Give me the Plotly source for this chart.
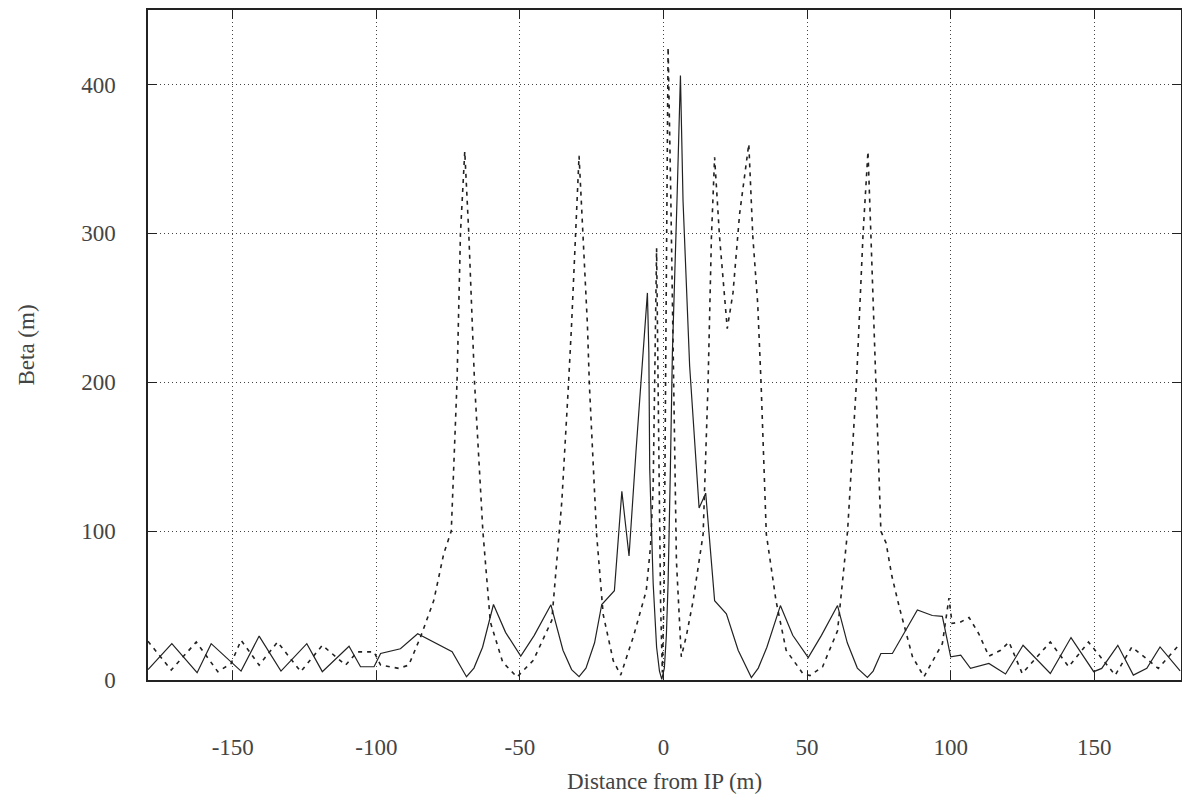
import plotly.graph_objects as go

# solid curve: distance from IP (m) and beta (m)
s_solid = [-179.5, -171.2, -162.4, -157.5, -147.1, -140.8, -133.2, -124.2, -118.8, -109.5,
           -105.5, -100.8, -98.5, -91.6, -85.6, -73.6, -68.6, -66.0, -63.0, -59.2,
           -55.0, -49.7, -45.0, -39.2, -35.0, -32.0, -29.4, -27.0, -24.0, -21.5,
           -17.1, -14.5, -12.0, -9.6, -5.6, -5.1, -4.8, -3.6, -2.4, -1.4,
           -0.6, 0.3, 1.0, 1.6, 2.4, 3.1, 4.7, 5.9, 6.8, 9.1,
           12.4, 14.7, 17.8, 21.9, 26.0, 30.6, 33.0, 36.0, 40.7, 45.0,
           50.4, 55.0, 60.6, 64.0, 67.5, 71.0, 73.0, 75.7, 79.7, 88.4,
           93.6, 97.1, 100.0, 103.5, 106.9, 113.3, 119.1, 125.2, 134.7, 141.9,
           149.8, 152.6, 158.2, 163.6, 168.3, 172.9, 179.9]
beta_solid = [7.0, 24.4, 4.9, 24.4, 6.0, 29.5, 6.0, 24.4, 5.6, 22.7,
              8.9, 8.9, 17.8, 21.0, 31.0, 19.0, 2.2, 8.0, 22.0, 50.7,
              32.0, 16.0, 30.0, 50.5, 20.0, 7.0, 2.2, 8.0, 25.0, 50.7,
              60.0, 126.7, 83.3, 153.0, 260.0, 220.0, 142.0, 65.0, 22.0, 6.0,
              0.5, 8.0, 30.0, 65.0, 142.0, 220.0, 322.0, 406.0, 322.0, 211.0,
              115.5, 125.5, 53.3, 44.5, 20.0, 1.6, 8.0, 22.0, 50.0, 30.0,
              15.0, 30.0, 50.0, 25.0, 8.0, 1.8, 6.0, 17.8, 17.8, 47.0,
              43.3, 42.7, 15.6, 16.7, 7.8, 11.1, 4.0, 23.3, 4.4, 28.5,
              5.6, 7.8, 23.3, 3.3, 7.8, 22.2, 6.2]

# dashed curve
s_dashed = [-179.5, -171.4, -162.7, -155.2, -150.6, -147.1, -140.8, -134.4, -126.3, -118.8,
            -110.7, -106.6, -100.8, -98.5, -92.2, -88.7, -84.6, -80.0, -76.5, -73.9,
            -71.9, -70.7, -69.2, -67.8, -65.8, -62.9, -60.3, -56.0, -51.0, -45.3,
            -38.9, -35.4, -33.1, -32.0, -29.4, -26.5, -25.8, -23.3, -21.0, -17.5,
            -14.9, -10.5, -6.0, -4.5, -3.6, -3.0, -2.4, -1.6, -1.0, -0.4,
            0.2, 0.8, 1.6, 2.5, 3.3, 4.5, 6.2, 8.0, 10.3, 13.8,
            15.5, 16.7, 17.8, 19.5, 22.2, 24.2, 26.5, 29.7, 31.1, 32.8,
            34.0, 35.8, 39.2, 42.7, 48.5, 51.0, 55.4, 60.6, 64.1, 67.2,
            69.5, 71.2, 72.2, 74.0, 75.7, 77.5, 79.5, 82.1, 86.7, 90.7,
            97.1, 99.4, 100.5, 103.5, 106.4, 109.8, 113.3, 117.4, 120.3, 124.9,
            134.7, 141.1, 148.0, 157.3, 163.1, 172.3, 179.9]
beta_dashed = [26.0, 6.7, 25.5, 5.6, 11.0, 26.7, 10.0, 25.5, 5.6, 23.3,
               10.0, 18.9, 18.9, 10.0, 7.8, 10.0, 28.9, 53.3, 85.0, 100.0,
               200.0, 300.0, 355.0, 300.0, 200.0, 100.0, 39.0, 12.0, 2.0, 13.3,
               40.0, 120.0, 198.0, 239.0, 352.0, 239.0, 198.0, 98.0, 44.0, 13.0,
               3.3, 29.0, 60.0, 90.0, 130.0, 200.0, 290.0, 150.0, 50.0, 5.0,
               60.0, 220.0, 425.0, 330.0, 222.0, 80.0, 15.6, 30.0, 53.0, 98.0,
               198.0, 298.0, 351.0, 298.0, 236.0, 260.0, 313.0, 360.0, 298.0, 253.0,
               198.0, 98.0, 53.0, 20.0, 4.4, 3.0, 8.9, 33.0, 100.0, 200.0,
               300.0, 355.0, 300.0, 200.0, 100.0, 92.0, 70.0, 49.0, 15.6, 2.2,
               24.4, 55.0, 38.0, 39.0, 42.0, 31.0, 16.0, 20.0, 25.5, 4.4,
               25.5, 8.9, 25.5, 3.3, 22.2, 7.8, 24.4]

x_ticks = [-150, -100, -50, 0, 50, 100, 150]
x_tick_labels = ["-150", "-100", "-50", "0", "50", "100", "150"]
y_ticks = [0, 100, 200, 300, 400]

font_main = dict(family="Liberation Serif", size=23, color="#444444")

fig = go.Figure()
fig.add_trace(go.Scatter(x=s_dashed, y=beta_dashed, mode="lines",
                         line=dict(color="#222222", width=1.6, dash="4px,5px")))
fig.add_trace(go.Scatter(x=s_solid, y=beta_solid, mode="lines",
                         line=dict(color="#222222", width=1.2)))

axis_common = dict(showline=True, linecolor="#222222", linewidth=1.5, mirror="ticks",
                   ticks="inside", ticklen=9, tickcolor="#222222",
                   showgrid=True, gridcolor="#444444", gridwidth=1, griddash="1px,3px",
                   zeroline=False, tickfont=font_main, automargin=False)

# page body adds ~8px offset, so the figure is a bit smaller than the window
fig.update_layout(
    width=1176, height=787,
    paper_bgcolor="white", plot_bgcolor="white",
    margin=dict(l=140, r=3, t=2, b=115),
    showlegend=False,
    font=font_main,
    xaxis=dict(axis_common, range=[-179.5, 180.2], tickvals=x_ticks, ticktext=x_tick_labels,
               ticklabelstandoff=46,
               title=dict(text="Distance from IP (m)", font=font_main, standoff=14)),
    yaxis=dict(axis_common, range=[0, 450], tickvals=y_ticks,
               ticklabelstandoff=26,
               title=dict(text="Beta (m)", font=font_main, standoff=40)),
)

fig.write_html("out.html")
